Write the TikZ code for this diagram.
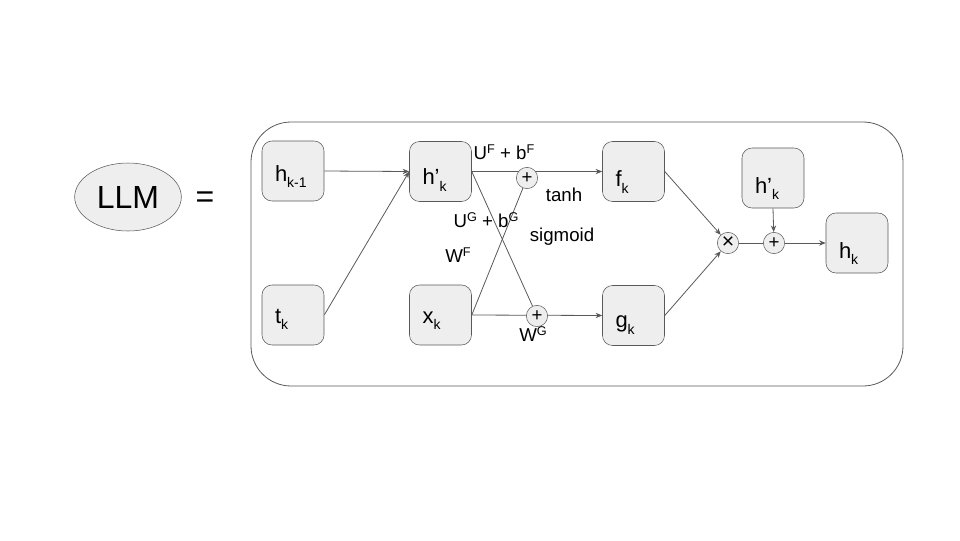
\documentclass[tikz,border=0pt]{standalone}
\usepackage{fontspec}
\setmainfont{Liberation Sans}
\usetikzlibrary{arrows.meta,shapes.geometric,backgrounds}
\definecolor{boxfill}{HTML}{EEEEEE}
\definecolor{edge}{HTML}{595959}
\newcommand\lsub[1]{\raisebox{-0.3em}{\fontsize{10.5}{10.5}\selectfont #1}}
\newcommand\lsup[1]{\raisebox{0.3em}{\fontsize{9.5}{9.5}\selectfont #1}}
\begin{document}
\begin{tikzpicture}[x=0.75pt,y=-0.75pt,
  blk/.style={draw=edge, fill=boxfill, rounded corners=7.5pt, minimum width=46.5pt, minimum height=45pt,
    inner xsep=9.75pt, inner ysep=0pt, text width=27pt, align=left, text height=15pt, text depth=0pt,
    font=\fontsize{16.5}{18}\selectfont},
  op/.style={circle, draw=edge, fill=boxfill, minimum size=16pt, inner sep=0pt, font=\fontsize{14}{14}\selectfont},
  lab/.style={font=\fontsize{14}{16}\selectfont, inner sep=0pt},
  con/.style={draw=edge, line width=0.6pt},
  arr/.style={con, -{Stealth[length=5pt,width=4pt]}}]
\useasboundingbox (0,0) rectangle (960,540);

% LLM =
\node[ellipse, draw=edge, fill=boxfill, minimum width=80pt, minimum height=51pt, inner sep=0pt,
  font=\fontsize{24}{26}\selectfont] (llm) at (128,197) {LLM};
\node[font=\fontsize{24}{26}\selectfont, inner sep=0pt] (eq) at (205,200) {=};

% blocks
\node[blk] (hk1) at (293,171) {h\lsub{k-1}};
\node[blk, text height=20pt] (hp)  at (440.5,171.5) {h’\lsub{k}};
\node[blk, text height=12pt] (tk)  at (293,315) {t\lsub{k}};
\node[blk, text height=12pt] (xk)  at (440.5,315) {x\lsub{k}};
\node[blk, text height=22.5pt] (fk)  at (633.5,171.5) {f\lsub{k}};
\node[blk, text height=18pt] (gk)  at (633.5,315.5) {g\lsub{k}};
\node[blk, text height=22.5pt] (hp2) at (773,178) {h’\lsub{k}};
\node[blk, text height=22.5pt] (hk)  at (857,243) {h\lsub{k}};

% operators
\node[op] (p1) at (527,178) {+};
\node[op] (p2) at (537,316) {+};
\node[op, font=\fontsize{16}{16}\selectfont] (mul) at (728,243) {×};
\node[op] (p3) at (774,243) {+};

% labels
\node[lab] (l1) at (504,152) {U\lsup{F} + b\lsup{F}};
\node[lab] (l2) at (564,195) {tanh};
\node[lab] (l3) at (486,220) {U\lsup{G} + b\lsup{G}};
\node[lab] (l4) at (562,237) {sigmoid};
\node[lab] (l5) at (458,255) {W\lsup{F}};
\node[lab] (l6) at (533,334) {W\lsup{G}};

\begin{scope}[on background layer]
  \draw[draw=edge, line width=0.6pt, rounded corners=30pt] (251,122) rectangle (903,386);
  \draw[arr] (hk1.east) -- (hp.west);
  \draw[arr] (tk.east) -- (hp.west);
  \draw[arr] (hp.east) -- (fk.west);
  \draw[con] (hp.east) -- (p2);
  \draw[con] (xk.east) -- (p1);
  \draw[arr] (xk.east) -- (gk.west);
  \draw[arr] (fk.east) -- (mul);
  \draw[arr] (gk.east) -- (mul);
  \draw[con] (mul) -- (p3);
  \draw[arr] (p3) -- (hk.west);
  \draw[arr] (hp2.south) -- (p3);
\end{scope}
\end{tikzpicture}
\end{document}
